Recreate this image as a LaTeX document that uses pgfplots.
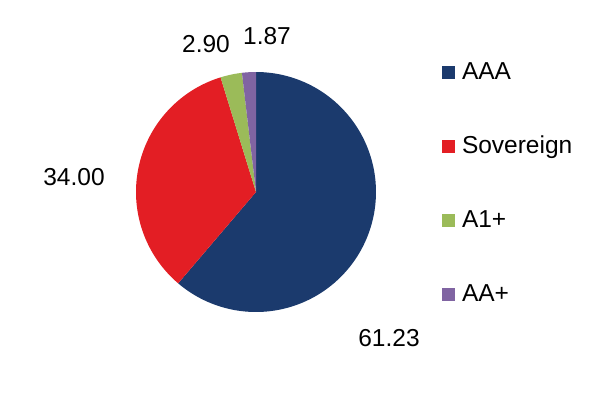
\documentclass[border=0pt]{standalone}
\usepackage{pgfplots}
\usepackage{pgfplotstable}
\pgfplotsset{compat=1.18}
\usepackage{fontspec}
\setmainfont{Liberation Sans}
\definecolor{cAAA}{HTML}{1B3A6D}
\definecolor{cSov}{HTML}{E31E24}
\definecolor{cA1}{HTML}{9BBB59}
\definecolor{cAAp}{HTML}{8064A2}
\pgfplotstableread{
label value
AAA 61.23
Sovereign 34.00
A1+ 2.90
AA+ 1.87
}\ratings
\begin{document}
\begin{tikzpicture}
\pgfplotstablegetelem{0}{value}\of\ratings \let\vA\pgfplotsretval
\pgfplotstablegetelem{1}{value}\of\ratings \let\vB\pgfplotsretval
\pgfplotstablegetelem{2}{value}\of\ratings \let\vC\pgfplotsretval
\pgfplotstablegetelem{3}{value}\of\ratings \let\vD\pgfplotsretval
\pgfmathsetmacro{\aA}{90}
\pgfmathsetmacro{\aB}{\aA-3.6*\vA}
\pgfmathsetmacro{\aC}{\aB-3.6*\vB}
\pgfmathsetmacro{\aD}{\aC-3.6*\vC}
\pgfmathsetmacro{\aE}{\aD-3.6*\vD}
\path[use as bounding box] (0,0) rectangle (614pt,392pt);
\begin{axis}[
  at={(136pt,80pt)}, anchor=south west,
  width=240pt, height=240pt, scale only axis,
  xmin=-1, xmax=1, ymin=-1, ymax=1,
  hide axis, clip=false,
  legend cell align=left,
  legend image code/.code={\fill[#1] (0pt,-6.5pt) rectangle (13pt,6.5pt);},
  legend style={at={(axis description cs:1.275,1.045)}, anchor=north west,
    draw=none, fill=none, inner sep=0pt, outer sep=0pt, row sep=51pt,
    font=\fontsize{24.5}{28}\selectfont,
    nodes={inner sep=0pt, text height=18pt, text depth=5pt},
    /tikz/every odd column/.append style={column sep=7pt}},
]
\addplot[fill=cAAA, draw=none, domain=\aB:\aA, samples=120] ({cos(x)},{sin(x)}) -- (axis cs:0,0) -- cycle;
\addlegendentry{AAA}
\addplot[fill=cSov, draw=none, domain=\aC:\aB, samples=80] ({cos(x)},{sin(x)}) -- (axis cs:0,0) -- cycle;
\addlegendentry{Sovereign}
\addplot[fill=cA1, draw=none, domain=\aD:\aC, samples=12] ({cos(x)},{sin(x)}) -- (axis cs:0,0) -- cycle;
\addlegendentry{A1+}
\addplot[fill=cAAp, draw=none, domain=\aE:\aD, samples=10] ({cos(x)},{sin(x)}) -- (axis cs:0,0) -- cycle;
\addlegendentry{AA+}
\end{axis}
\begin{scope}[every node/.style={font=\fontsize{24.5}{28}\selectfont, inner sep=0pt}]
\node at (206pt,348pt) {2.90};
\node at (267pt,356pt) {1.87};
\node at (74pt,215pt) {34.00};
\node at (389pt,54pt) {61.23};
\end{scope}
\end{tikzpicture}
\end{document}
